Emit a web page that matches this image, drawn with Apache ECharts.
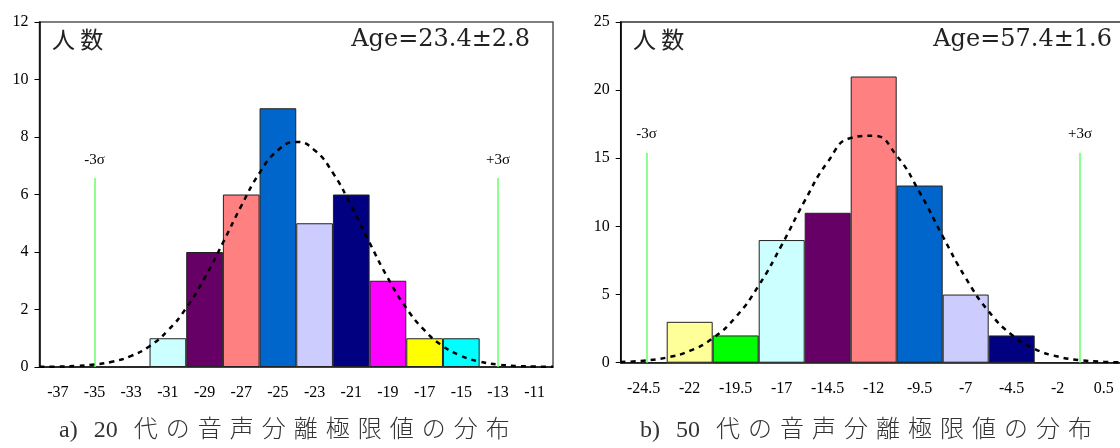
<!DOCTYPE html>
<html>
<head>
<meta charset="utf-8">
<script src="https://cdn.jsdelivr.net/npm/echarts@6/dist/echarts.min.js"></script>
<style>
  html, body { margin: 0; padding: 0; background: #fff; }
  #chart { width: 1120px; height: 448px; }
</style>
</head>
<body>
<div id="chart"></div>
<script>
// 20代 (a)
var catsA = ["-37", "-35", "-33", "-31", "-29", "-27", "-25", "-23", "-21", "-19", "-17", "-15", "-13", "-11"];
var countsA = [0, 0, 0, 1, 4, 6, 9, 5, 6, 3, 1, 1, 0, 0];
var colorsA = ["#fff", "#fff", "#fff", "#CCFFFF", "#660066", "#FF8080", "#0066CC", "#CCCCFF", "#000080", "#FF00FF", "#FFFF00", "#00FFFF", "#fff", "#fff"];
var curveXA = [-38, -37, -36, -35, -34, -33, -32, -31, -30, -29, -28, -27, -26, -25, -24, -23, -22, -21, -20, -19, -18, -17, -16, -15, -14, -13, -12, -11, -10];
var curveYA = [0.005, 0.015, 0.037, 0.087, 0.19, 0.385, 0.725, 1.27, 2.05, 3.09, 4.32, 5.6, 6.75, 7.54, 7.83, 7.54, 6.75, 5.6, 4.32, 3.09, 2.05, 1.27, 0.725, 0.385, 0.19, 0.087, 0.037, 0.015, 0.005];
var sigmaA = [-35, -13];
var sigmaTopA = 6.57;

// 50代 (b)
var catsB = ["-24.5", "-22", "-19.5", "-17", "-14.5", "-12", "-9.5", "-7", "-4.5", "-2", "0.5"];
var countsB = [0, 3, 2, 9, 11, 21, 13, 5, 2, 0, 0];
var colorsB = ["#fff", "#FFFF99", "#00FF00", "#CCFFFF", "#660066", "#FF8080", "#0066CC", "#CCCCFF", "#000080", "#fff", "#fff"];
var curveXB = [-25.75, -24.5, -23.25, -22, -20.75, -19.5, -18.25, -17, -15.75, -14.5, -13.25, -12, -10.75, -9.5, -8.25, -7, -5.75, -4.5, -3.25, -2, -0.75, 0.5, 1.75];
var curveYB = [0.052, 0.148, 0.376, 0.864, 1.79, 3.35, 5.66, 8.63, 11.87, 14.73, 16.49, 16.66, 15.19, 12.49, 9.28, 6.22, 3.76, 2.05, 1.01, 0.45, 0.18, 0.065, 0.021];
var sigmaB = [-24.34, -0.79];
var sigmaTopB = 15.4;

var yTicksA = { min: 0, max: 12, interval: 2 };
var yTicksB = { min: 0, max: 25, interval: 5 };

var capA = ["a)", "20", "代の音声分離極限値の分布"];
var capB = ["b)", "50", "代の音声分離極限値の分布"];
var ageA = "Age=23.4±2.8";
var ageB = "Age=57.4±1.6";

var serif = "'Liberation Serif', 'Times New Roman', serif";
var cjk = "'Noto Sans CJK JP', sans-serif";

// 元の図は字間が広いので空白で近づける
function caption(parts) {
  var gap = "\u2002\u2006";
  return parts[0] + gap + parts[1] + gap + parts[2].split("").join("\u2004");
}

function barData(counts, colors) {
  return counts.map(function (v, i) {
    return { value: v, itemStyle: { color: colors[i] } };
  });
}

function sigmaLines(xs, top) {
  return [
    [{ coord: [xs[0], 0] }, { coord: [xs[0], top], label: { formatter: "-3σ" } }],
    [{ coord: [xs[1], 0] }, { coord: [xs[1], top], label: { formatter: "+3σ" } }]
  ];
}

function curveSeries(idx, xs, ys, sx, top) {
  return {
    type: "line",
    xAxisIndex: idx + 2,
    yAxisIndex: idx,
    smooth: true,
    symbol: "none",
    z: 5,
    lineStyle: { color: "#000", width: 2.5, type: [5, 5] },
    data: xs.map(function (x, i) { return [x, ys[i]]; }),
    markLine: {
      silent: true,
      symbol: "none",
      lineStyle: { color: "#66FF66", width: 1.5, type: "solid" },
      label: { position: "end", distance: 11, color: "#000", fontFamily: serif, fontSize: 15 },
      data: sigmaLines(sx, top)
    }
  };
}

var chart = echarts.init(document.getElementById("chart"));

var catAxis = {
  type: "category",
  boundaryGap: true,
  axisLine: { lineStyle: { color: "#333", width: 1.5 } },
  axisTick: { show: false },
  axisLabel: { color: "#000", fontFamily: serif, fontSize: 16, margin: 18 }
};
var valAxis = {
  type: "value",
  splitLine: { show: false },
  axisLine: { show: true, onZero: false, lineStyle: { color: "#000", width: 1.5 } },
  axisTick: { show: true, inside: false, length: 5, lineStyle: { color: "#000" } },
  axisLabel: { color: "#000", fontFamily: serif, fontSize: 16, margin: 11 }
};

chart.setOption({
  animation: false,
  grid: [
    { left: 39.5, top: 22, width: 513.5, height: 345, show: true, borderColor: "#555", borderWidth: 1.5, outerBoundsMode: "none" },
    { left: 620.7, top: 22, width: 506, height: 340.7, show: true, borderColor: "#333", borderWidth: 1.5, outerBoundsMode: "none" }
  ],
  xAxis: [
    Object.assign({}, catAxis, { gridIndex: 0, data: catsA }),
    Object.assign({}, catAxis, { gridIndex: 1, data: catsB }),
    { type: "value", gridIndex: 0, min: -38, max: -10, show: false },
    { type: "value", gridIndex: 1, min: -25.75, max: 1.75, show: false }
  ],
  yAxis: [
    Object.assign({}, valAxis, { gridIndex: 0 }, yTicksA),
    Object.assign({}, valAxis, { gridIndex: 1 }, yTicksB)
  ],
  graphic: [
    { type: "text", left: 52, top: 28, style: { text: "人 数", font: "23px " + cjk, fill: "#222" } },
    { type: "text", right: 1120 - 530, top: 28, style: { text: ageA, font: "24px 'DejaVu Serif', serif", fill: "#222" } },
    { type: "text", left: 633, top: 28, style: { text: "人 数", font: "23px " + cjk, fill: "#222" } },
    { type: "text", right: 8, top: 28, style: { text: ageB, font: "24px 'DejaVu Serif', serif", fill: "#222" } },
    { type: "text", left: 59, top: 419, style: { text: caption(capA), font: "300 24px 'Liberation Serif', 'Noto Sans CJK JP', sans-serif", fill: "#333" } },
    { type: "text", left: 640, top: 419, style: { text: caption(capB), font: "300 24px 'Liberation Serif', 'Noto Sans CJK JP', sans-serif", fill: "#333" } }
  ],
  series: [
    {
      type: "bar", xAxisIndex: 0, yAxisIndex: 0, barCategoryGap: "0%",
      itemStyle: { borderColor: "#222", borderWidth: 1 },
      data: barData(countsA, colorsA)
    },
    {
      type: "bar", xAxisIndex: 1, yAxisIndex: 1, barCategoryGap: "0%",
      itemStyle: { borderColor: "#222", borderWidth: 1 },
      data: barData(countsB, colorsB)
    },
    curveSeries(0, curveXA, curveYA, sigmaA, sigmaTopA),
    curveSeries(1, curveXB, curveYB, sigmaB, sigmaTopB)
  ]
});
</script>
</body>
</html>
